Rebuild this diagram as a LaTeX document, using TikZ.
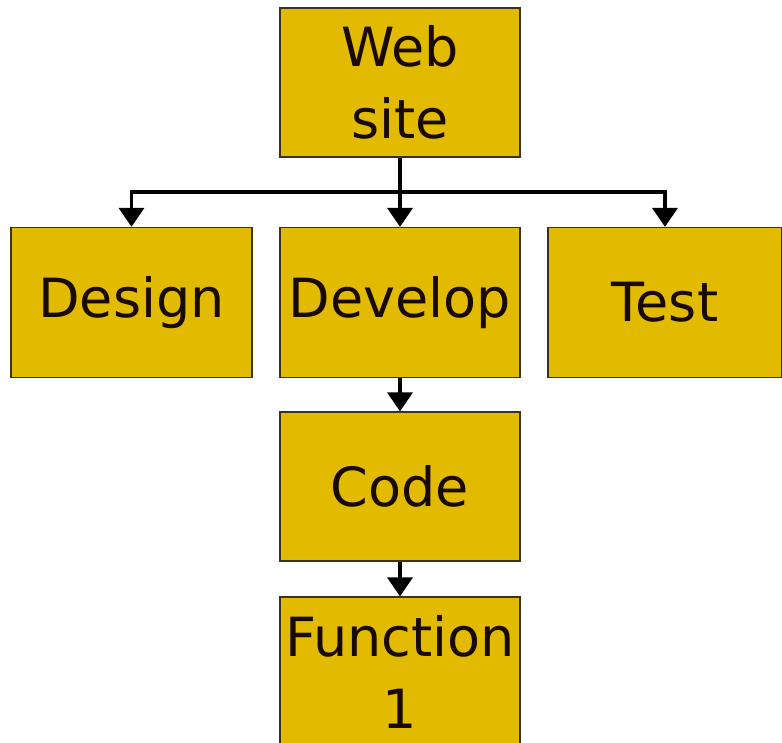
\documentclass[tikz,border=0pt]{standalone}
\usepackage{fontspec}
\setmainfont{DejaVu Sans}
\usetikzlibrary{arrows.meta}
\definecolor{boxfill}{RGB}{226,186,0}
\definecolor{boxline}{RGB}{60,50,20}
\definecolor{txt}{RGB}{25,10,0}
\tikzset{
  box/.style={draw=boxline, line width=1.3pt, fill=boxfill, inner sep=0pt, align=center,
    text=txt, font=\fontsize{54}{72}\selectfont},
  arr/.style={line width=3.8pt, -{Triangle[width=25pt,length=19pt]}}
}
\begin{document}
\begin{tikzpicture}[x=1pt,y=-1pt]
\useasboundingbox (0,0) rectangle (782,743);
\node[box, minimum width=240pt, minimum height=149pt] (web) at (400,82.5) {Web\\site};
\node[box, minimum width=241pt, minimum height=150pt] (design) at (131.5,302.5) {Design};
\node[box, minimum width=240pt, minimum height=150pt] (develop) at (400,302.5) {Develop};
\node[box, minimum width=234pt, minimum height=150pt] (test) at (665,302.5) {Test};
\node[box, minimum width=240pt, minimum height=149pt] (code) at (400,486.5) {Code};
\node[box, minimum width=240pt, minimum height=149pt] (func) at (400,671.5) {Function\\1};
\coordinate (bus) at (400,192);
\draw[arr] (web.south) -- (develop.north);
\draw[arr] (bus) -| (design.north);
\draw[arr] (bus) -| (test.north);
\draw[arr] (develop.south) -- (code.north);
\draw[arr] (code.south) -- (func.north);
\end{tikzpicture}
\end{document}
